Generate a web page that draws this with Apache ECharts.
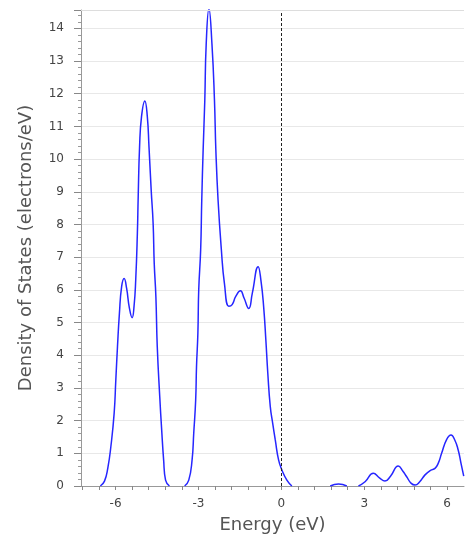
<!DOCTYPE html>
<html>
<head>
<meta charset="utf-8">
<script src="https://cdn.jsdelivr.net/npm/echarts@6/dist/echarts.min.js"></script>
<style>
html, body { margin: 0; padding: 0; background: #fff; }
#dos { width: 465px; height: 540px; }
</style>
</head>
<body>
<div id="dos"></div>
<script>
// energies (eV) and density of states (electrons/eV), null = gap in the curve
var energy = [
    -6.55, -6.40, -6.28, -6.17, -6.05, -5.99, -5.93, -5.86, -5.78, -5.69,
    -5.60, -5.50, -5.40, -5.33, -5.27, -5.21, -5.18, -5.13, -5.06, -4.94,
    -4.85, -4.79, -4.71, -4.64, -4.60, -4.54, -4.49, -4.40, -4.33, -4.26,
    -4.19, -4.05, -3.80,
    -3.50, -3.35, -3.23, -3.17, -3.10, -3.07, -3.02, -2.99, -2.92, -2.88,
    -2.83, -2.77, -2.72, -2.62, -2.51, -2.42, -2.37, -2.29, -2.17, -2.06,
    -1.90, -1.78, -1.65, -1.48, -1.35, -1.18, -1.05, -0.84, -0.74, -0.64,
    -0.56, -0.49, -0.40, -0.31, -0.22, -0.10, 0.02, 0.20, 0.38, 1.00,
    1.77, 2.07, 2.37, 2.60,
    2.79, 3.03, 3.33, 3.55, 3.75, 3.95, 4.23, 4.40, 4.53, 4.70,
    4.84, 5.00, 5.20, 5.40, 5.56, 5.68, 5.80, 5.98, 6.14, 6.28,
    6.40, 6.50, 6.60
];
var dos = [
    0, 0.15, 0.55, 1.2, 2.23, 3.24, 4.26, 5.28, 6.1, 6.35,
    6.05, 5.45, 5.15, 5.5, 6.3, 7.73, 8.85, 10.38, 11.3, 11.78,
    11.3, 10.38, 9.05, 8.03, 6.81, 5.79, 4.26, 2.73, 1.71, 0.8,
    0.18, 0, null,
    0, 0.18, 0.8, 1.62, 2.63, 3.65, 4.68, 5.99, 7.22, 8.75,
    10.28, 11.8, 13.5, 14.6, 13.5, 11.8, 10.28, 8.75, 7.22, 6.2,
    5.5, 5.55, 5.8, 5.97, 5.75, 5.43, 5.9, 6.71, 6.3, 5.48,
    4.46, 3.45, 2.43, 1.9, 1.41, 0.8, 0.49, 0.18, 0, null,
    0, 0.06, 0, null,
    0, 0.13, 0.39, 0.25, 0.15, 0.3, 0.61, 0.45, 0.29, 0.08,
    0.03, 0.12, 0.34, 0.48, 0.54, 0.7, 1.0, 1.42, 1.56, 1.4,
    1.1, 0.7, 0.3
];
var xTicks = [-7.2, -6.6, -6, -5.4, -4.8, -4.2, -3.6, -3, -2.4, -1.8, -1.2, -0.6,
    0, 0.6, 1.2, 1.8, 2.4, 3, 3.6, 4.2, 4.8, 5.4, 6];
var xLabels = [-6, -3, 0, 3, 6];
var xMin = -7.25, xMax = 6.61;
var yMax = 14.56;

var points = energy.map(function (e, i) {
    return [e, dos[i] === null ? '-' : dos[i]];
});

var font = 'DejaVu Sans, Verdana, sans-serif';

echarts.init(document.getElementById('dos')).setOption({
    animation: false,
    grid: { left: 81, right: 1, top: 10, bottom: 54 },
    xAxis: {
        type: 'value',
        min: xMin,
        max: xMax,
        name: 'Energy (eV)',
        nameLocation: 'middle',
        nameGap: 30,
        nameTextStyle: { fontFamily: font, fontSize: 18, color: '#555' },
        axisLine: { onZero: false, lineStyle: { color: '#999' } },
        axisTick: { show: true, customValues: xTicks, length: 4, lineStyle: { color: '#888' } },
        axisLabel: {
            customValues: xLabels,
            margin: 12,
            fontFamily: font,
            fontSize: 12,
            color: '#444'
        },
        splitLine: { show: false }
    },
    yAxis: {
        type: 'value',
        min: 0,
        max: yMax,
        interval: 1,
        name: 'Density of States (electrons/eV)',
        nameLocation: 'middle',
        nameGap: 46,
        nameTextStyle: { fontFamily: font, fontSize: 18, color: '#555' },
        axisLine: { show: true, onZero: false, lineStyle: { color: '#999' } },
        axisTick: { show: true, length: 7, lineStyle: { color: '#888' } },
        minorTick: { show: true, splitNumber: 5, length: 3, lineStyle: { color: '#999' } },
        axisLabel: {
            margin: 17,
            fontFamily: font,
            fontSize: 12,
            color: '#444',
            showMaxLabel: false
        },
        splitLine: { show: true, lineStyle: { color: '#e8e8e8' } }
    },
    series: [{
        type: 'line',
        data: points,
        smooth: 0.5,
        showSymbol: false,
        clip: true,
        lineStyle: { color: '#2626ff', width: 1.5 },
        markLine: {
            silent: true,
            symbol: 'none',
            label: { show: false },
            data: [
                { xAxis: 0, lineStyle: { color: '#222', type: [3, 2], width: 1 } },
                { yAxis: yMax, lineStyle: { color: '#ddd', type: 'solid', width: 1 } }
            ]
        }
    }]
});
</script>
</body>
</html>
